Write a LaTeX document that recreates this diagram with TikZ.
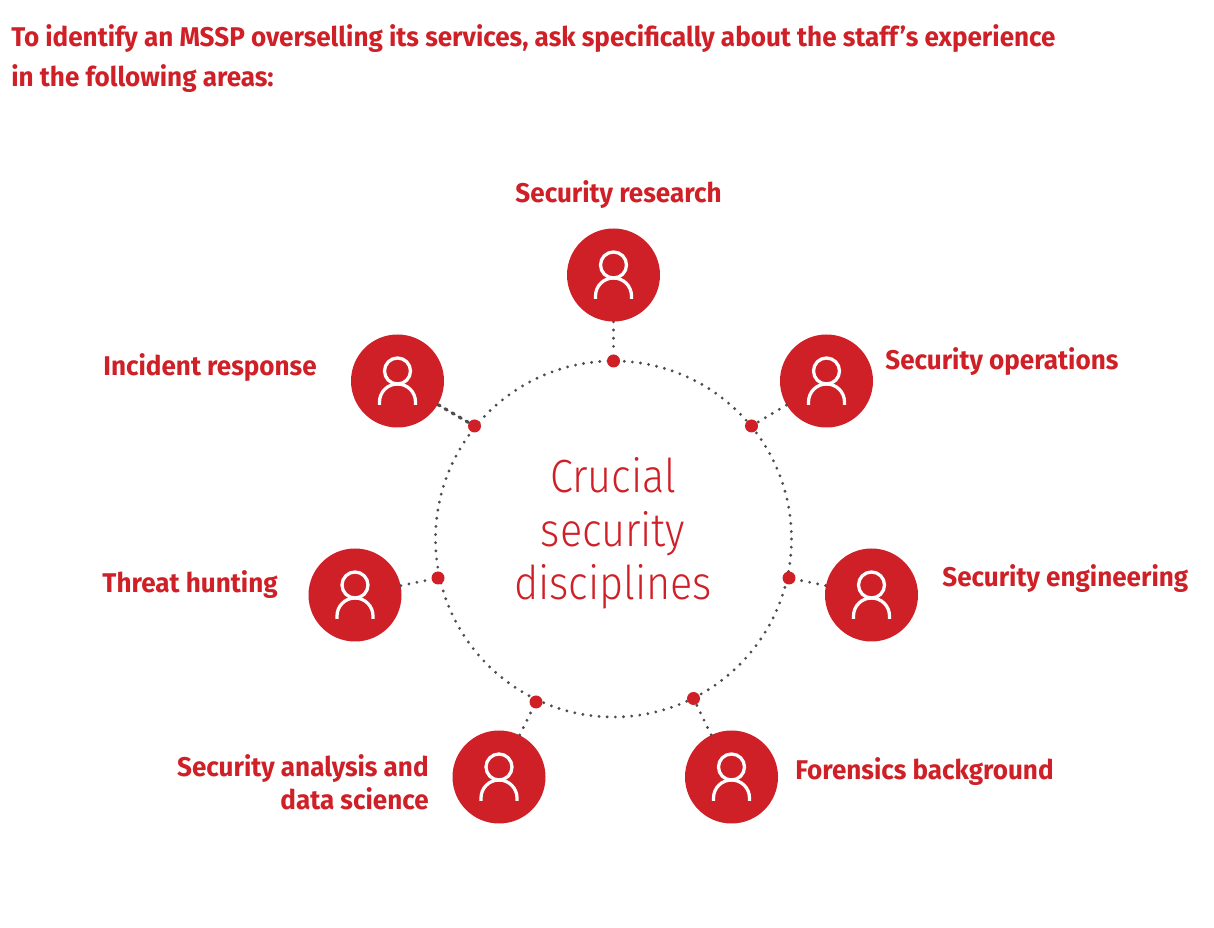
\documentclass[tikz,border=0pt]{standalone}
\usepackage{fontspec}
\setmainfont[FakeStretch=0.963]{Fira Sans}
\newfontfamily\lightfont[FakeStretch=0.89]{Fira Sans Light}
\definecolor{mssred}{HTML}{CF2027}
\definecolor{dotgray}{HTML}{4D4D4D}
\tikzset{
  head/.style={text=mssred,font=\bfseries\fontsize{15.4}{22}\selectfont,inner sep=0pt},
  big/.style={text=mssred,font=\lightfont\fontsize{26.5}{30}\selectfont,inner sep=0pt,anchor=base},
  disc/.style={circle,fill=mssred,minimum size=93*0.02cm,inner sep=0pt},
  knob/.style={circle,fill=mssred,minimum size=13*0.02cm,inner sep=0pt},
  dotline/.style={dotgray,line width=1.8pt,line cap=round,dash pattern=on 0pt off 4.65pt},
  person/.pic={
    \draw[white,line width=0.065cm] (0,-10) circle[radius=13];
    \draw[white,line width=0.065cm] (-18,24) -- (-18,21) arc[start angle=180,end angle=360,radius=18] -- (18,24);
  }
}
\begin{document}
\begin{tikzpicture}[x=0.02cm,y=-0.02cm]
\useasboundingbox (0,0) rectangle (1214,928);

\node[head,anchor=base west] (title1) at (11,47) {To identify an MSSP overselling its services, ask specifically about the staff’s experience};
\node[head,anchor=base west] (title2) at (11,87) {in the following areas:};

\node[circle,minimum size=356*0.02cm,inner sep=0pt] (ring) at (613.5,539) {};
\draw[dotline] (613.5,539) circle[radius=178];

\node[disc] (research) at (613.5,275) {};
\node[disc] (operations) at (826.5,381) {};
\node[disc] (engineering) at (871.5,595) {};
\node[disc] (forensics) at (731.5,777) {};
\node[disc] (analysis) at (499,777) {};
\node[disc] (hunting) at (355,595) {};
\node[disc] (incident) at (397.5,381) {};

\node[knob] (kresearch) at (613.5,361) {};
\node[knob] (koperations) at (751.5,426) {};
\node[knob] (kengineering) at (789,578) {};
\node[knob] (kforensics) at (693.5,698.5) {};
\node[knob] (kanalysis) at (536,702) {};
\node[knob] (khunting) at (438,578) {};
\node[knob] (kincident) at (474.5,426) {};

\draw[dotline] (research) -- (kresearch);
\draw[dotline] (operations) -- (koperations);
\draw[dotline] (engineering) -- (kengineering);
\draw[dotline] (forensics) -- (kforensics);
\draw[dotline] (analysis) -- (kanalysis);
\draw[dotline] (hunting) -- (khunting);
\draw[dotline,dash pattern=on 1.4pt off 3.25pt] (incident) -- (kincident);

\pic at (research) {person};
\pic at (operations) {person};
\pic at (engineering) {person};
\pic at (forensics) {person};
\pic at (analysis) {person};
\pic at (hunting) {person};
\pic at (incident) {person};

\node[head,anchor=base] (lresearch) at (618.5,203) {Security research};
\node[head,anchor=base west] (loperations) at (885,370) {Security operations};
\node[head,anchor=base west] (lengineering) at (942,587) {Security engineering};
\node[head,anchor=base west] (lforensics) at (795,780) {Forensics background};
\node[head,anchor=base east] (lanalysis) at (429,777) {Security analysis and};
\node[head,anchor=base east] (lanalysis2) at (429,809) {data science};
\node[head,anchor=base east] (lhunting) at (278,593) {Threat hunting};
\node[head,anchor=base east] (lincident) at (317,376) {Incident response};

\node[big] (c1) at (613,493) {Crucial};
\node[big] (c2) at (613,547) {security};
\node[big] (c3) at (613,600) {disciplines};
\end{tikzpicture}
\end{document}
